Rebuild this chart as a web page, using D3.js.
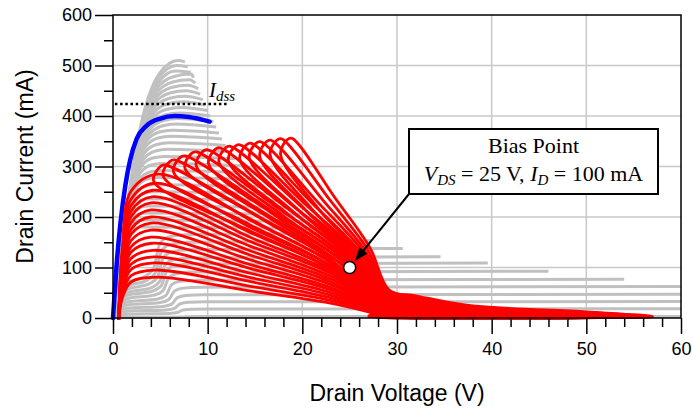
<!DOCTYPE html>
<html>
<head>
<meta charset="utf-8">
<script src="https://cdn.jsdelivr.net/npm/d3@7"></script>
<style>
  body { margin: 0; background: #fff; }
  svg { display: block; }
  .tick text { font-family: "Liberation Sans", Arial, sans-serif; font-size: 18px; fill: #000; }
  .tick line { stroke: #000; stroke-width: 1.5; }
</style>
</head>
<body>
<svg id="chart"></svg>
<script>
// axis ticks
var vdsTicks = [0, 10, 20, 30, 40, 50, 60];
var idTicks = [0, 100, 200, 300, 400, 500, 600];

// gray device I-V family (saturation current mA, end voltage V, knee V, kink step V)
var grayI = [515, 505, 494, 483, 472, 461, 450, 439, 428, 417, 406, 395, 384, 372, 360, 347, 334, 320, 306, 292, 278, 264, 250, 236, 222, 208, 194, 180, 165, 150, 135, 119, 107, 91, 75, 61, 46, 32, 18, 3];
var grayEnd = [7.6, 7.9, 8.2, 8.5, 8.7, 9.0, 9.2, 9.5, 9.7, 10.0, 10.3, 10.6, 10.9, 11.2, 11.5, 11.9, 12.4, 12.9, 13.5, 14.1, 14.8, 15.6, 16.5, 17.5, 18.6, 19.8, 21.2, 22.8, 24.8, 27.3, 30.6, 34.6, 39.6, 46, 54, 60, 60, 60, 60, 60];
var grayKnee = [4.9, 4.8, 4.7, 4.6, 4.5, 4.4, 4.3, 4.2, 4.1, 4.0, 3.9, 3.8, 3.7, 3.5, 3.4, 3.3, 3.2, 3.0, 2.9, 2.8, 2.6, 2.5, 2.4, 2.2, 2.1, 2.0, 1.8, 1.7, 1.5, 1.5, 1.5, 1.5, 1.5, 1.5, 1.5, 1.5, 1.5, 1.5, 1.5, 1.5];
var grayStep = [0, 0, 0, 0, 0, 0, 0, 0, 0, 0, 0, 0, 0, 0, 0, 0, 0, 0, 0, 0, 0, 0, 0, 0, 0, 0, 0, 0, 4.6, 4.8, 5.0, 5.2, 5.4, 5.6, 5.9, 6.2, 6.5, 6.8, 7.1, 7.4];
// normalized knee shape (V / knee, I / Isat)
var kneeV = [0, 0.3, 0.6, 1, 1.4, 1.8];
var kneeI = [0, 0.42, 0.74, 0.94, 0.99, 1];

// blue curve (Idss trace)
var blueV = [0, 0.4, 0.8, 1.3, 1.8, 2.5, 3.5, 5, 6.5, 8, 10.2];
var blueI = [0, 110, 190, 262, 312, 355, 380, 395, 400, 398, 389];

// red dynamic load loops: tip, corner and tail end (first 16 rise from the knee, the rest are leaves)
var redTipV = [4.6, 4.5, 4.4, 4.3, 4.2, 4.1, 4.0, 4.0, 4.0, 4.0, 4.0, 4.0, 4.1, 4.2, 4.4, 4.8, 5.5, 6.5, 7.6, 8.8, 10.0, 11.3, 12.4, 13.4, 14.6, 15.6, 16.7, 17.8, 18.9];
var redTipI = [81, 95, 109, 121, 134, 148, 160, 174, 188, 200, 214, 228, 240, 253, 267, 285, 303, 313, 321, 329, 333, 337, 340, 343, 346, 349, 352, 355, 356];
var redCornerV = [27.4, 27.5, 27.5, 27.6, 27.6, 27.7, 27.7, 27.8, 27.8, 27.9, 27.9, 28.0, 28.0, 28.1, 28.1, 28.2, 28.3, 28.4, 28.5, 28.5, 28.6, 28.7, 28.8, 28.8, 28.9, 29.0, 29.0, 29.1, 29.2];
var redCornerI = [10, 12, 14, 16, 18, 20, 22, 24, 26, 28, 30, 31, 32, 34, 35, 36, 38, 40, 41, 42, 44, 45, 46, 48, 49, 50, 52, 53, 55];
var redTailV = [31, 32, 33, 34, 35, 36, 37, 38, 39, 40, 41, 42, 43, 44, 45, 46, 47, 48, 49, 50, 51, 52, 53, 53.5, 54, 55, 55.5, 56, 57];

// annotations
var idssLevel = 424, idssFrom = 0.2, idssTo = 12;
var biasV = 25, biasI = 100;

var dimensions = {
  width: 692,
  height: 412,
  margin: { top: 15, right: 11, bottom: 94, left: 113 },
};

var svg = d3.select("#chart")
  .attr("width", dimensions.width)
  .attr("height", dimensions.height);

var xScale = d3.scaleLinear()
  .domain([0, 60])
  .range([dimensions.margin.left, dimensions.width - dimensions.margin.right]);
var yScale = d3.scaleLinear()
  .domain([0, 600])
  .range([dimensions.height - dimensions.margin.bottom, dimensions.margin.top]);

var x0 = xScale(0), x1 = xScale(60), y0 = yScale(0), y1 = yScale(600);

// grid
var grid = svg.append("g").attr("stroke", "#c8c8c8").attr("stroke-width", 1.5);
grid.selectAll(".gx").data(vdsTicks.slice(1, -1)).enter().append("line")
  .attr("x1", d => xScale(d)).attr("x2", d => xScale(d))
  .attr("y1", y0).attr("y2", y1);
grid.selectAll(".gy").data(idTicks.slice(1, -1)).enter().append("line")
  .attr("x1", x0).attr("x2", x1)
  .attr("y1", d => yScale(d)).attr("y2", d => yScale(d));

var line = d3.line().x(d => xScale(d[0])).y(d => yScale(d[1]));

// gray curves
var grayCurves = grayI.map(function (isat, k) {
  var end = grayEnd[k], vs = grayStep[k], pts;
  if (vs > 0) {
    pts = [[0, 0], [0.6, 0.25 * isat], [1.5, 0.42 * isat], [vs - 1.2, 0.5 * isat],
      [vs - 0.3, 0.6 * isat], [vs + 0.3, 0.88 * isat], [vs + 1.2, 0.97 * isat], [vs + 3, isat]];
    pts = pts.filter(p => p[0] < end - 0.2);
    pts.push([end, 1.02 * isat]);
  } else {
    pts = kneeV.map((v, j) => [v * grayKnee[k], kneeI[j] * isat])
      .filter(p => p[0] < end - 0.2);
    pts.push([end, 0.985 * isat]);
  }
  return pts;
});

svg.append("g").selectAll("path").data(grayCurves).enter().append("path")
  .attr("d", line.curve(d3.curveMonotoneX))
  .attr("fill", "none")
  .attr("stroke", "#c0c0c0")
  .attr("stroke-width", 3);

// blue curve
svg.append("path")
  .datum(blueV.map((v, j) => [v, blueI[j]]))
  .attr("d", d3.line().x(d => xScale(d[0])).y(d => yScale(d[1])).curve(d3.curveMonotoneX))
  .attr("fill", "none")
  .attr("stroke", "#0000ff")
  .attr("stroke-width", 4.5)
  .attr("stroke-linecap", "round");

// red loops
var redLine = d3.line().x(d => xScale(d[0])).y(d => yScale(d[1]));
var loops = redTipV.map(function (vt, k) {
  var it = redTipI[k], vc = redCornerV[k], ic = redCornerI[k], ve = redTailV[k];
  var rv = vt + 0.45 * (vc - vt), ri = it - 0.4 * (it - ic);
  var r2v = vt + 0.8 * (vc - vt), r2i = it - 0.72 * (it - ic);
  var mv = vc + 0.3 * (ve - vc), nv = vc + 0.75 * (ve - vc);
  var tail = [[vc, ic], [vc + 0.1 * (ve - vc), 0.8 * ic], [mv, 0.45 * ic], [nv, 0.22 * ic], [ve, 3],
    [nv, 0.5], [mv, 1], [vc - 0.5, 0.35 * ic]];
  if (k < 16) {
    return {
      closed: false,
      pts: [[0.6, -3], [1.0, 0.5 * it], [1.9, 0.88 * it], [vt, it], [rv, ri], [r2v, r2i]].concat(tail)
    };
  }
  return {
    closed: true,
    pts: [[vt - 0.5, it - 3], [vt, it], [rv, ri], [r2v, r2i]]
      .concat(tail)
      .concat([[r2v - 1.2, r2i - 12], [rv - 1.8, ri - 20], [vt - 1.2, it - 32]])
  };
});

svg.append("g").selectAll("path").data(loops).enter().append("path")
  .attr("d", d => redLine.curve(d.closed ? d3.curveCatmullRomClosed.alpha(0.5) : d3.curveCatmullRom.alpha(0.5))(d.pts))
  .attr("fill", "none")
  .attr("stroke", "#ff0000")
  .attr("stroke-width", 2.8)
  .attr("stroke-linejoin", "round");

// frame
svg.append("rect")
  .attr("x", x0).attr("y", y1)
  .attr("width", x1 - x0).attr("height", y0 - y1)
  .attr("fill", "none").attr("stroke", "#000").attr("stroke-width", 1.5);

// axes
var xAxis = svg.append("g").attr("transform", "translate(0," + y0 + ")")
  .call(d3.axisBottom(xScale).tickValues(vdsTicks).tickSize(16).tickPadding(8));
xAxis.select(".domain").remove();
var xMinor = svg.append("g").attr("transform", "translate(0," + y0 + ")")
  .call(d3.axisBottom(xScale).tickValues(d3.range(2, 60, 2).filter(v => v % 10 != 0)).tickSize(9).tickFormat(""));
xMinor.select(".domain").remove();

var yAxis = svg.append("g").attr("transform", "translate(" + x0 + ",0)")
  .call(d3.axisLeft(yScale).tickValues(idTicks).tickSize(18).tickPadding(3));
yAxis.select(".domain").remove();
var yMinor = svg.append("g").attr("transform", "translate(" + x0 + ",0)")
  .call(d3.axisLeft(yScale).tickValues(d3.range(50, 600, 100)).tickSize(9).tickFormat(""));
yMinor.select(".domain").remove();

svg.append("text")
  .attr("x", (x0 + x1) / 2).attr("y", 401)
  .attr("text-anchor", "middle")
  .style("font-family", "Liberation Sans, Arial, sans-serif")
  .style("font-size", "23px")
  .text("Drain Voltage (V)");

svg.append("text")
  .attr("transform", "translate(33," + (y0 + y1) / 2 + ") rotate(-90)")
  .attr("text-anchor", "middle")
  .style("font-family", "Liberation Sans, Arial, sans-serif")
  .style("font-size", "23px")
  .text("Drain Current (mA)");

// Idss dotted line and label
svg.append("line")
  .attr("x1", xScale(idssFrom)).attr("x2", xScale(idssTo))
  .attr("y1", yScale(idssLevel)).attr("y2", yScale(idssLevel))
  .attr("stroke", "#000").attr("stroke-width", 2.5)
  .attr("stroke-dasharray", "2.5,2.7");

var idss = svg.append("text")
  .attr("x", 209).attr("y", 97)
  .style("font-family", "Liberation Serif, Times New Roman, serif")
  .style("font-style", "italic")
  .style("font-size", "21px");
idss.append("tspan").text("I");
idss.append("tspan").attr("dy", 4).style("font-size", "15px").text("dss");

// bias point arrow and marker
var bx = xScale(biasV), by = yScale(biasI);
var boxX = 409, boxY = 129, boxW = 249, boxH = 65;
var ang = Math.atan2(by - (boxY + boxH), bx - boxX);
var tipX = bx - 8 * Math.cos(ang), tipY = by - 8 * Math.sin(ang);
svg.append("line")
  .attr("x1", boxX).attr("y1", boxY + boxH)
  .attr("x2", tipX - 8 * Math.cos(ang)).attr("y2", tipY - 8 * Math.sin(ang))
  .attr("stroke", "#000").attr("stroke-width", 2);
var hl = 14, hw = 5;
svg.append("path")
  .attr("d", "M" + tipX + "," + tipY +
    "L" + (tipX - hl * Math.cos(ang) + hw * Math.sin(ang)) + "," + (tipY - hl * Math.sin(ang) - hw * Math.cos(ang)) +
    "L" + (tipX - hl * Math.cos(ang) - hw * Math.sin(ang)) + "," + (tipY - hl * Math.sin(ang) + hw * Math.cos(ang)) + "Z")
  .attr("fill", "#000");
svg.append("circle")
  .attr("cx", bx).attr("cy", by).attr("r", 6)
  .attr("fill", "#fff").attr("stroke", "#000").attr("stroke-width", 1.5);

svg.append("rect")
  .attr("x", boxX).attr("y", boxY).attr("width", boxW).attr("height", boxH)
  .attr("fill", "#fff").attr("stroke", "#000").attr("stroke-width", 2);

var serif = "Liberation Serif, Times New Roman, serif";
svg.append("text")
  .attr("x", boxX + boxW / 2).attr("y", 153)
  .attr("text-anchor", "middle")
  .style("font-family", serif).style("font-size", "22px")
  .text("Bias Point");
var t2 = svg.append("text")
  .attr("x", boxX + boxW / 2).attr("y", 181)
  .attr("text-anchor", "middle")
  .style("font-family", serif).style("font-size", "22px");
t2.append("tspan").style("font-style", "italic").text("V");
t2.append("tspan").attr("dy", 4).style("font-style", "italic").style("font-size", "15px").text("DS");
t2.append("tspan").attr("dy", -4).text(" = " + biasV + " V, ");
t2.append("tspan").style("font-style", "italic").text("I");
t2.append("tspan").attr("dy", 4).style("font-style", "italic").style("font-size", "15px").text("D");
t2.append("tspan").attr("dy", -4).text(" = " + biasI + " mA");
</script>
</body>
</html>
